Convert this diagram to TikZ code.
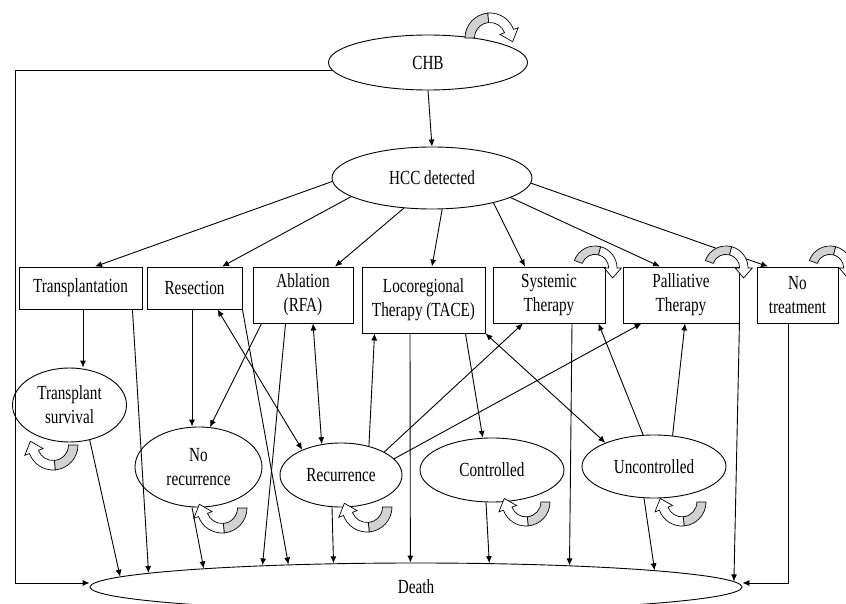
\documentclass[tikz,border=0pt]{standalone}
\usepackage{fontspec}
\newfontfamily\diagfont{Liberation Serif}[FakeStretch=0.76]
\usetikzlibrary{shapes,arrows.meta,positioning,calc}

\begin{document}
\begin{tikzpicture}[x=1pt, y=1pt, line width=0.9pt, font=\diagfont\fontsize{20}{24}\selectfont]
% Define styles
\tikzstyle{stateell} = [ellipse, draw, align=center, inner sep=0pt]
\tikzstyle{treatbox} = [rectangle, draw, align=center, inner sep=0pt]
\tikzstyle{arrow} = [-{Latex[length=7pt,width=6pt]}]
\tikzstyle{twoway} = [{Latex[length=7pt,width=6pt]}-{Latex[length=7pt,width=6pt]}]
\tikzset{selfloop/.pic={
  \filldraw[fill=gray!35, line width=0.7pt] (180:1) arc[start angle=180, end angle=95, radius=1] -- (95:0.62) arc[start angle=95, end angle=180, radius=0.62] -- cycle;
  \filldraw[fill=white, line width=0.7pt] (95:1) arc[start angle=95, end angle=20, radius=1] -- (20:1.2) -- (0.906,-0.149) -- (20:0.42) -- (20:0.62) arc[start angle=20, end angle=95, radius=0.62] -- cycle;
}}

\useasboundingbox (0,0) rectangle (846,-604);

% Health states
\node[stateell, minimum width=199pt, minimum height=55pt] (chb) at (428,-62.5) {CHB};
\node[stateell, minimum width=200pt, minimum height=62pt] (hcc) at (432,-178) {HCC detected};

% Treatments
\node[treatbox, minimum width=123pt, minimum height=42pt] (trans) at (80.5,-288) {Transplantation};
\node[treatbox, minimum width=95pt, minimum height=42pt] (resec) at (194.5,-288) {Resection};
\node[treatbox, minimum width=100pt, minimum height=56pt] (abla) at (303,-295) {Ablation\\(RFA)};
\node[treatbox, minimum width=123pt, minimum height=66pt] (loco) at (423.5,-300) {Locoregional\\Therapy (TACE)};
\node[treatbox, minimum width=112pt, minimum height=56pt] (syst) at (549,-295) {Systemic\\Therapy};
\node[treatbox, minimum width=116pt, minimum height=56pt] (pall) at (681,-295) {Palliative\\Therapy};
\node[treatbox, minimum width=81pt, minimum height=56pt] (notreat) at (797.5,-295) {No\\treatment};

% Outcomes
\node[stateell, minimum width=114pt, minimum height=74pt] (tsurv) at (69.5,-405) {Transplant\\survival};
\node[stateell, minimum width=127pt, minimum height=80pt] (norec) at (198.5,-467) {No\\recurrence};
\node[stateell, minimum width=122pt, minimum height=64pt] (recur) at (341,-475) {Recurrence};
\node[stateell, minimum width=144pt, minimum height=64pt] (contr) at (492,-470) {Controlled};
\node[stateell, minimum width=144pt, minimum height=63pt] (uncon) at (654,-466.5) {Uncontrolled};
\node[stateell, minimum width=652pt, minimum height=48pt] (death) at (416,-587) {Death};

% Connections
\draw[arrow] (chb.south) -- (hcc.north);
\draw[arrow] (chb.185) -- ++(-317,0) |- ([yshift=4pt]death.west);

\draw[arrow] (hcc.182.3) -- ([xshift=14.5pt]trans.north);
\draw[arrow] (hcc.193) -- ([xshift=27.5pt]resec.north);
\draw[arrow] (hcc.227) -- ([xshift=32pt]abla.north);
\draw[arrow] (hcc.288) -- ([xshift=8.5pt]loco.north);
\draw[arrow] (hcc.338.4) -- ([xshift=-24pt]syst.north);
\draw[arrow] (hcc.346.6) -- ([xshift=-21pt]pall.north);
\draw[arrow] (hcc.357.7) -- ([xshift=-29.5pt]notreat.north);

\draw[arrow] ([xshift=2.5pt]trans.south) -- ([xshift=13.5pt]tsurv.north);
\draw[arrow] ([xshift=-10pt]trans.south east) -- (death.177.57);
\draw[arrow] (tsurv.300.7) -- (death.178.89);

\draw[arrow] ([xshift=-2.5pt]resec.south) -- ([xshift=-6.5pt]norec.north);
\draw[arrow] (resec.south east) -- (death.170.32);
\draw[twoway] ([xshift=23pt]resec.south) -- (recur.147);

\draw[arrow] ([xshift=9pt]abla.south west) -- (norec.74);
\draw[arrow] ([xshift=33pt]abla.south west) -- (death.172.05);
\draw[twoway] ([xshift=10pt]abla.south) -- (recur.122);

\draw[arrow] (recur.46.8) -- ([xshift=13pt]loco.south west);
\draw[arrow] ([xshift=-13.5pt]loco.south) -- (death.103.8);
\draw[arrow] ([xshift=-20pt]loco.south east) -- (contr.106);
\draw[twoway] (loco.south east) -- (uncon.154.4);

\draw[arrow] (recur.28.9) -- ([xshift=-26pt]syst.south);
\draw[arrow] ([xshift=23pt]syst.south) -- (death.8.29);
\draw[arrow] (uncon.109.5) -- ([xshift=-7pt]syst.south east);

\draw[arrow] (recur.17.8) -- ([xshift=19pt]pall.south west);
\draw[arrow] (uncon.59.5) -- ([xshift=4pt]pall.south);
\draw[arrow] (pall.south east) -- (death.1.632);

\draw[arrow] ([xshift=-9.5pt]notreat.south) |- ([yshift=4pt]death.east);

\draw[arrow] ([xshift=-6.5pt]norec.south) -- (death.175.47);
\draw[arrow] ([xshift=-9pt]recur.south) -- (death.164.32);
\draw[arrow] ([xshift=-6pt]contr.south) -- (death.18.80);
\draw[arrow] ([xshift=-10pt]uncon.south) -- (death.4.53);

% Self transitions
\pic[scale=25] at (490,-38) {selfloop};
\pic[scale=22, rotate=-20] at (595,-268) {selfloop};
\pic[scale=22, rotate=-20] at (726,-268) {selfloop};
\pic[scale=22, rotate=-20] at (830,-268) {selfloop};
\pic[scale=25, rotate=180] at (53,-445) {selfloop};
\pic[scale=25, rotate=180] at (222,-508) {selfloop};
\pic[scale=25, rotate=180] at (367,-507) {selfloop};
\pic[scale=24, rotate=180] at (526,-502) {selfloop};
\pic[scale=24, rotate=180] at (682,-502) {selfloop};

\end{tikzpicture}
\end{document}
